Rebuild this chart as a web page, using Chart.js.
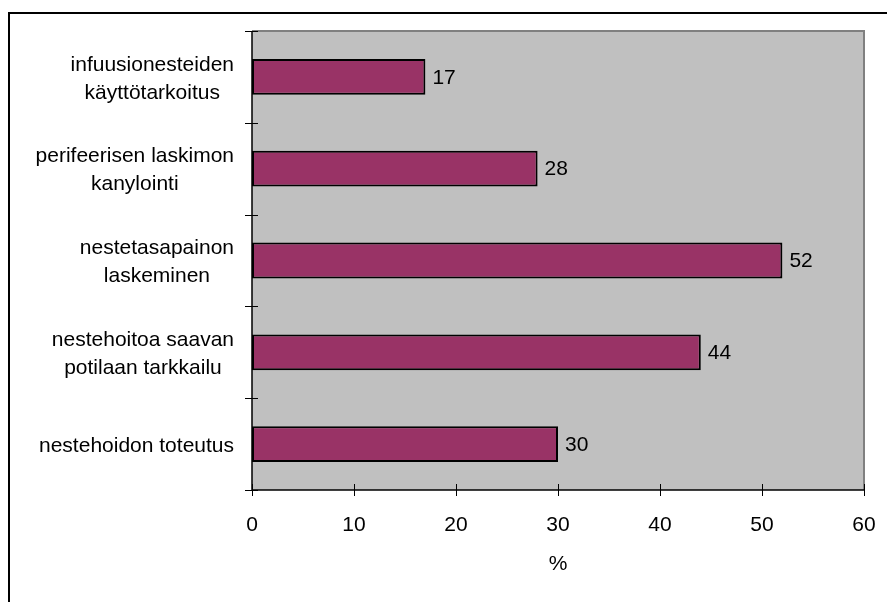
<!DOCTYPE html>
<html>
<head>
<meta charset="utf-8">
<script src="https://cdn.jsdelivr.net/npm/chart.js@4"></script>
<style>
  html, body { margin: 0; padding: 0; background: #fff; }
  #wrap { width: 887px; height: 602px; }
</style>
</head>
<body>
<div id="wrap"><canvas id="myBarChart"></canvas></div>
<script>
const categories = [
    ['infuusionesteiden', 'käyttötarkoitus'],
    ['perifeerisen laskimon', 'kanylointi'],
    ['nestetasapainon', 'laskeminen'],
    ['nestehoitoa saavan', 'potilaan tarkkailu'],
    ['nestehoidon toteutus']
];
const values = [17, 28, 52, 44, 30];
const xTicks = [0, 10, 20, 30, 40, 50, 60];
const axisTitle = '%';

const FONT = '"Liberation Sans", Arial, sans-serif';

// grey plot area, outer frame, crossing ticks, labels
const excelLook = {
    id: 'excelLook',
    beforeDraw(chart) {
        const ctx = chart.ctx;
        const a = chart.chartArea;
        ctx.save();
        ctx.fillStyle = '#c0c0c0';
        ctx.fillRect(a.left, a.top, a.right - a.left, a.bottom - a.top);
        // outer frame
        ctx.strokeStyle = '#000';
        ctx.lineWidth = 2;
        ctx.beginPath();
        ctx.moveTo(9, 602);
        ctx.lineTo(9, 13);
        ctx.lineTo(887, 13);
        ctx.stroke();
        ctx.restore();
    },
    afterDatasetsDraw(chart) {
        const ctx = chart.ctx;
        const a = chart.chartArea;
        const xs = chart.scales.x;
        const ys = chart.scales.y;
        ctx.save();
        // plot border top/right
        ctx.strokeStyle = '#808080';
        ctx.lineWidth = 2;
        ctx.beginPath();
        ctx.moveTo(a.left, a.top);
        ctx.lineTo(a.right, a.top);
        ctx.lineTo(a.right, a.bottom);
        ctx.stroke();
        // axes
        ctx.strokeStyle = '#000';
        ctx.lineWidth = 1.5;
        ctx.beginPath();
        ctx.moveTo(a.left, a.top);
        ctx.lineTo(a.left, a.bottom);
        ctx.lineTo(a.right, a.bottom);
        ctx.stroke();
        // ticks crossing the axes
        ctx.lineWidth = 1;
        ctx.beginPath();
        xTicks.forEach(v => {
            const x = Math.round(xs.getPixelForValue(v)) + 0.5;
            ctx.moveTo(x, a.bottom - 6);
            ctx.lineTo(x, a.bottom + 6);
        });
        const step = (a.bottom - a.top) / categories.length;
        for (let i = 0; i <= categories.length; i++) {
            const y = Math.round(a.top + i * step) + 0.5;
            ctx.moveTo(a.left - 7, y);
            ctx.lineTo(a.left + 6, y);
        }
        ctx.stroke();

        ctx.fillStyle = '#000';
        // x tick labels
        ctx.font = '21px ' + FONT;
        ctx.textAlign = 'center';
        ctx.textBaseline = 'middle';
        xTicks.forEach(v => ctx.fillText(String(v), xs.getPixelForValue(v), a.bottom + 35));
        ctx.fillText(axisTitle, (a.left + a.right) / 2, a.bottom + 74);

        // value labels
        ctx.textAlign = 'left';
        values.forEach((v, i) => {
            ctx.fillText(String(v), xs.getPixelForValue(v) + 7, ys.getPixelForValue(i) + 1);
        });

        // category labels: block right-aligned, lines centered in the block
        ctx.font = '21px ' + FONT;
        ctx.textAlign = 'center';
        categories.forEach((lines, i) => {
            const w = Math.max(...lines.map(l => ctx.measureText(l).width));
            const cx = a.left - 18 - w / 2;
            const cy = ys.getPixelForValue(i) + 2;
            const lh = 28;
            lines.forEach((l, k) => {
                ctx.fillText(l, cx, cy + (k - (lines.length - 1) / 2) * lh);
            });
        });
        ctx.restore();
    }
};

const ctx = document.getElementById('myBarChart').getContext('2d');
const myBarChart = new Chart(ctx, {
    type: 'bar',
    data: {
        labels: categories,
        datasets: [{
            data: values,
            backgroundColor: '#993366',
            borderColor: '#000',
            borderWidth: 2,
            borderSkipped: false,
            categoryPercentage: 1,
            barPercentage: 0.39
        }]
    },
    options: {
        indexAxis: 'y',
        responsive: true,
        maintainAspectRatio: false,
        animation: false,
        layout: { padding: { left: 0, top: 31, right: 23, bottom: 0 } },
        plugins: {
            legend: { display: false },
            tooltip: { enabled: false }
        },
        scales: {
            x: {
                min: 0,
                max: 60,
                ticks: { display: false, stepSize: 10 },
                grid: { display: false },
                border: { display: false },
                afterFit(scale) { scale.height = 112; }
            },
            y: {
                ticks: { display: false },
                grid: { display: false },
                border: { display: false },
                afterFit(scale) { scale.width = 252; }
            }
        }
    },
    plugins: [excelLook]
});
</script>
</body>
</html>
